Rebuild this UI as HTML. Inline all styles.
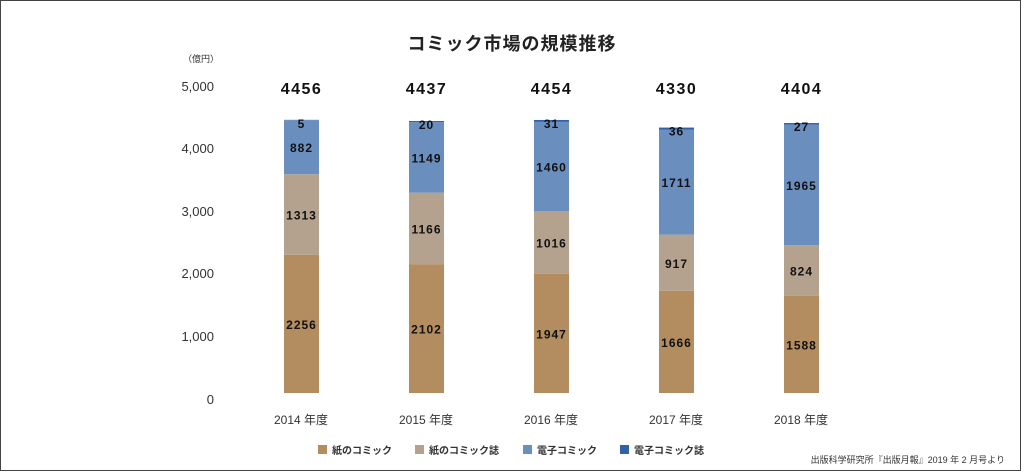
<!DOCTYPE html><html><head><meta charset="utf-8"><style>
body{margin:0;background:#fff;width:1024px;height:476px;overflow:hidden;position:relative;font-family:"Liberation Sans","Noto Sans CJK JP",sans-serif}
.frame{position:absolute;left:0;top:0;width:1019px;height:469px;border:1.5px solid #444}
</style></head><body><div class="frame"></div>
<svg width="1024" height="476" style="position:absolute;left:0;top:0" font-family="Liberation Sans, Noto Sans CJK JP, sans-serif">
<text x="512" y="50" text-anchor="middle" font-size="18" font-weight="bold" fill="#222" letter-spacing="1">コミック市場の規模推移</text>
<text x="183" y="62" font-size="9" fill="#333">（億円）</text>
<g font-size="13" fill="#333" text-anchor="end">
<text x="214" y="91">5,000</text><text x="214" y="153">4,000</text><text x="214" y="216">3,000</text><text x="214" y="278">2,000</text><text x="214" y="341">1,000</text><text x="214" y="404">0</text></g>
<g id="bars"></g>
<g font-size="12" fill="#333" text-anchor="middle">
<text x="301" y="424">2014 年度</text><text x="426" y="424">2015 年度</text><text x="551" y="424">2016 年度</text><text x="676" y="424">2017 年度</text><text x="801" y="424">2018 年度</text></g>
<g font-size="10" fill="#333" font-weight="bold">
<rect x="318" y="445" width="9" height="9" fill="#b38c5f"/><text x="332" y="454">紙のコミック</text>
<rect x="415" y="445" width="9" height="9" fill="#b5a28e"/><text x="429" y="454">紙のコミック誌</text>
<rect x="523" y="445" width="9" height="9" fill="#6a8fbf"/><text x="537" y="454">電子コミック</text>
<rect x="620" y="445" width="9" height="9" fill="#2f62a8"/><text x="634" y="454">電子コミック誌</text></g>
<text x="1005" y="463" font-size="9" fill="#333" text-anchor="end">出版科学研究所『出版月報』2019 年 2 月号より</text>
</svg>
<script>
var d=[[2256,1313,882,5,4456],[2102,1166,1149,20,4437],[1947,1016,1460,31,4454],[1666,917,1711,36,4330],[1588,824,1965,27,4404]];
var c=["#b38c5f","#b5a28e","#6a8fbf","#2f62a8"],s="",k=0.0613,B=393;
d.forEach(function(r,i){var x=284+125*i,y=B;
for(var j=0;j<4;j++){var h=r[j]*k;y-=h;s+='<rect x="'+x+'" y="'+y+'" width="35" height="'+h+'" fill="'+c[j]+'"/>';
var ty=j==3?y+8:y+h/2+5;s+='<text x="'+(x+17.5)+'" y="'+ty+'" text-anchor="middle" font-size="12" font-weight="bold" fill="#111" letter-spacing="1">'+r[j]+'</text>';}
s+='<text x="'+(x+17.5)+'" y="94" text-anchor="middle" font-size="16" font-weight="bold" fill="#111" letter-spacing="1.5">'+r[4]+'</text>';});
document.getElementById("bars").innerHTML=s;
</script></body></html>
